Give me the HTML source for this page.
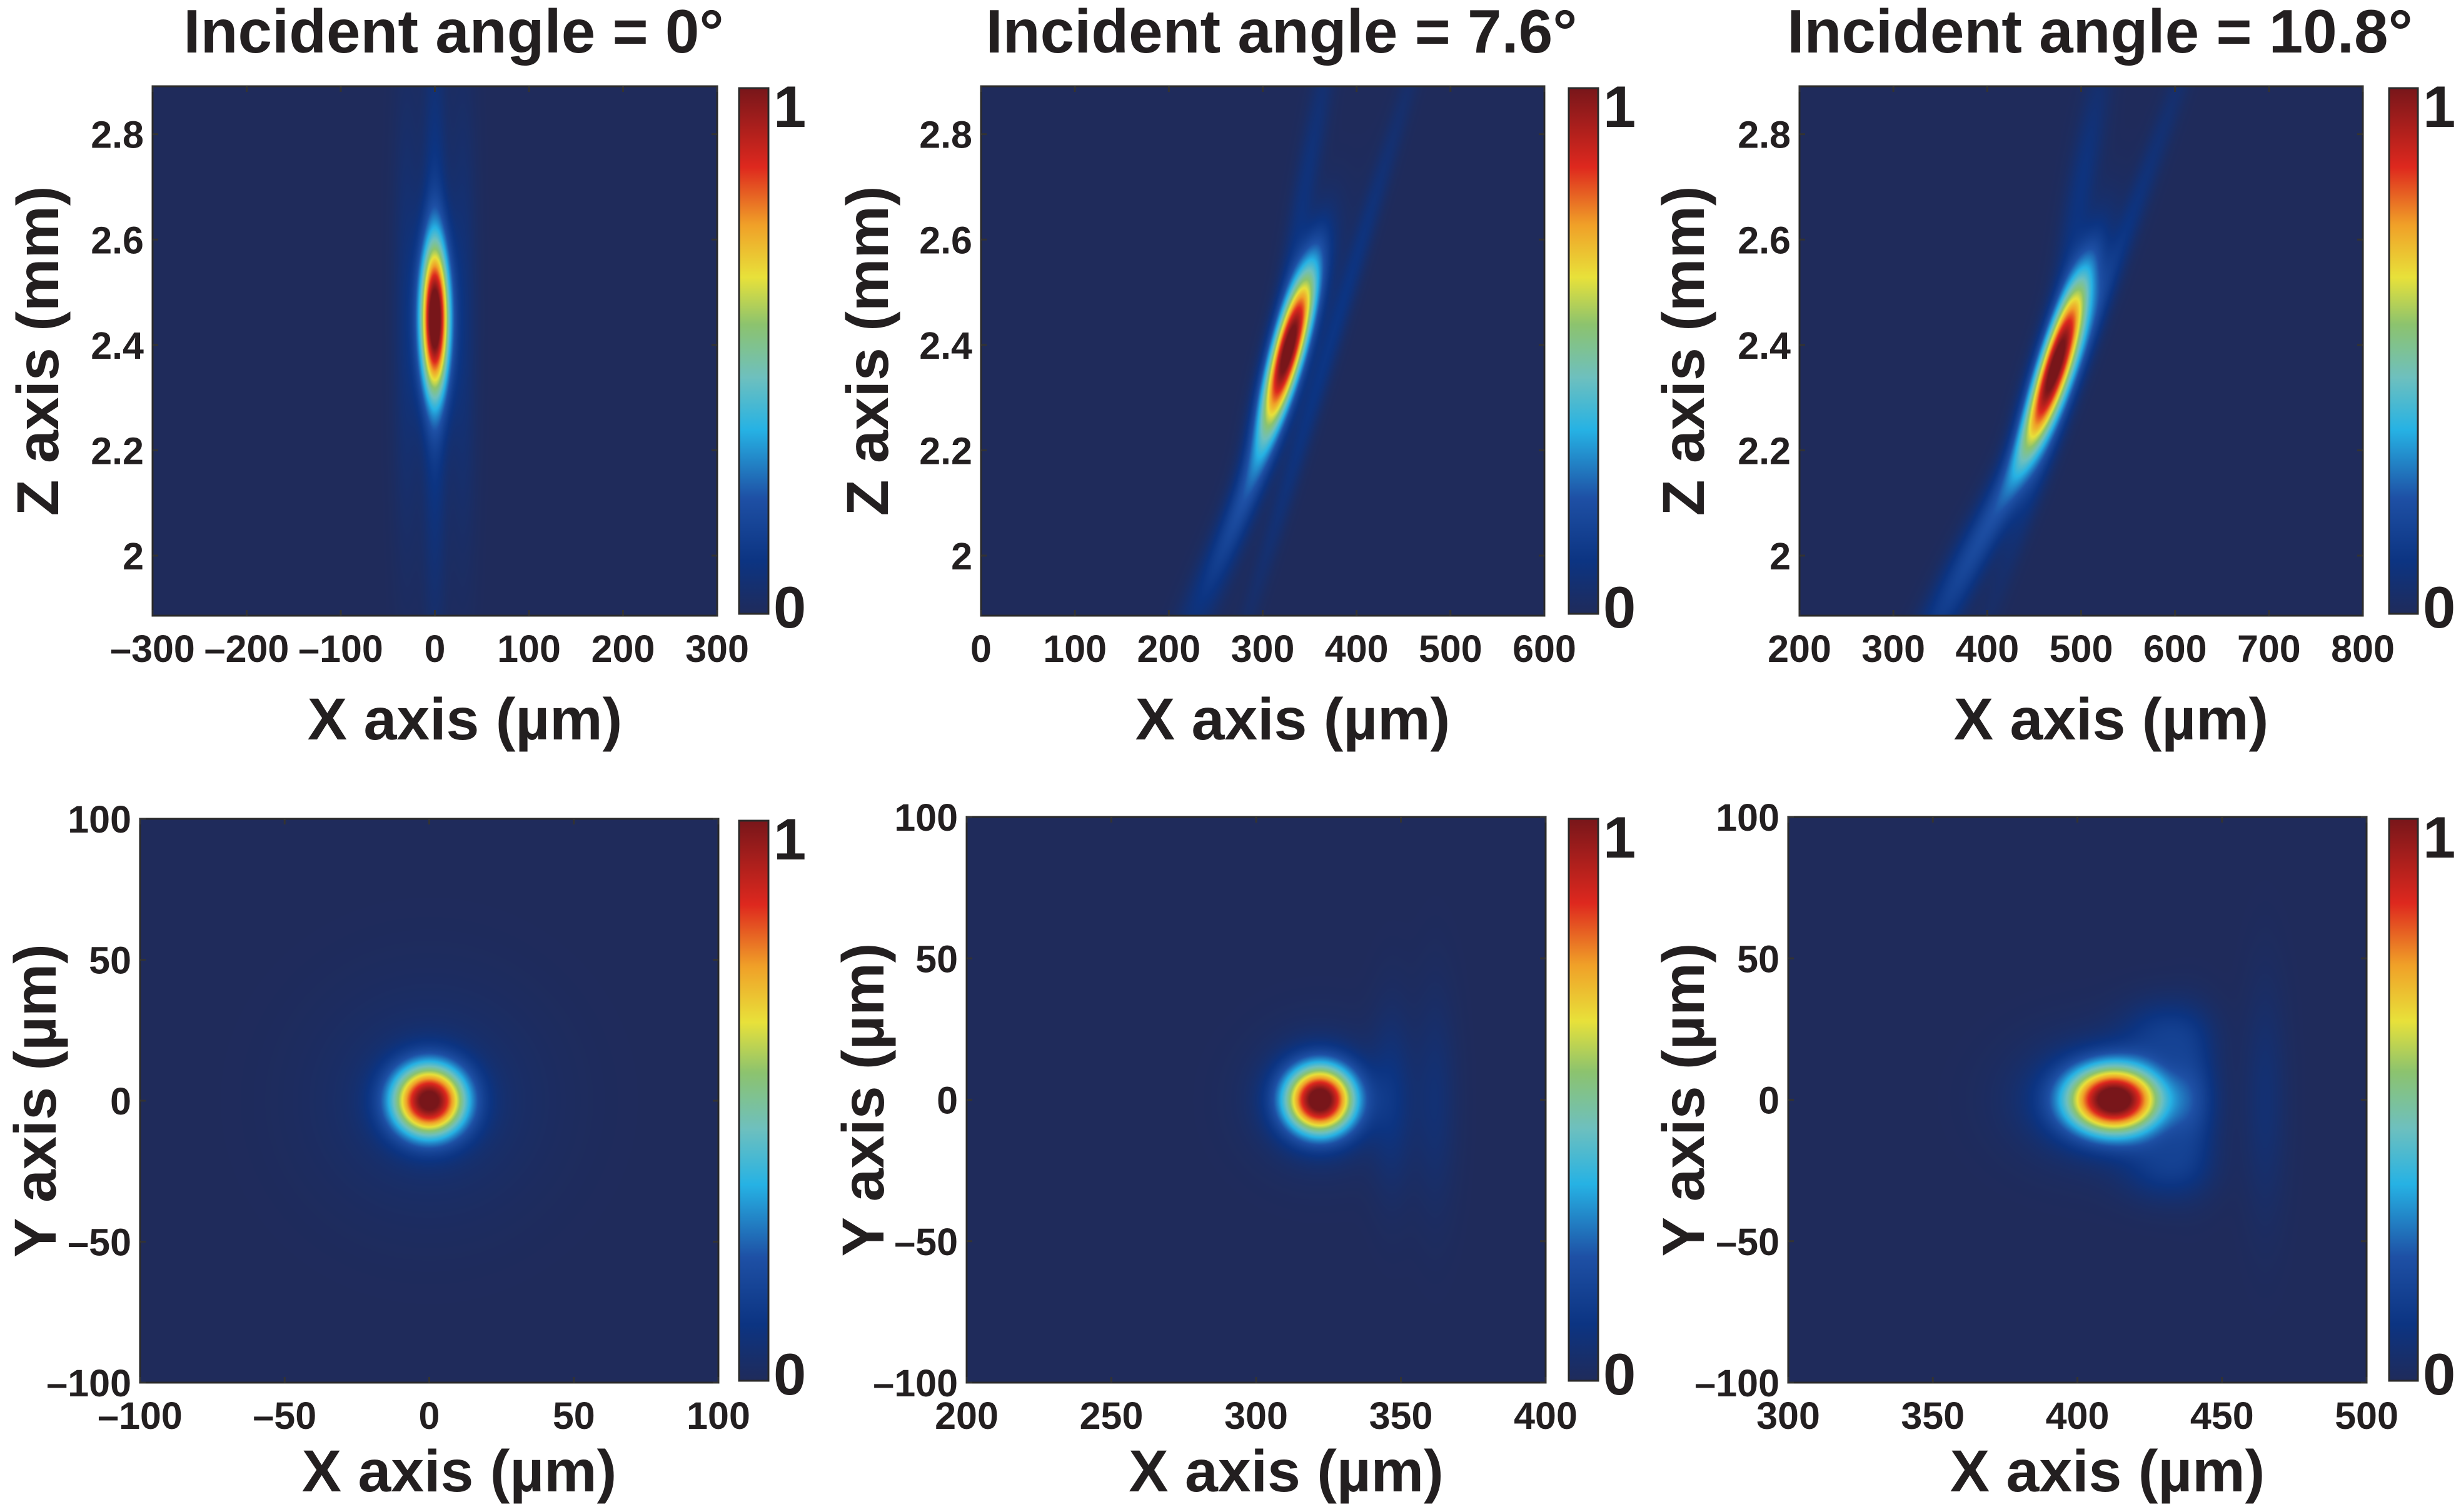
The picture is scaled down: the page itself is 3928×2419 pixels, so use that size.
<!DOCTYPE html>
<html><head><meta charset="utf-8">
<style>
html,body{margin:0;padding:0;background:#fff;}
#root{position:relative;width:3928px;height:2419px;overflow:hidden;font-family:"Liberation Sans",Arial,sans-serif;}
canvas{position:absolute;}
svg{position:absolute;left:0;top:0;}
text{font-family:"Liberation Sans",Arial,sans-serif;font-weight:bold;fill:#231f20;}
</style></head>
<body>
<div id="root">
<svg id="ov" width="3928" height="2419"></svg>
</div>
<script>
// ---------- data (data units) ----------
const titles = ["Incident angle = 0°","Incident angle = 7.6°","Incident angle = 10.8°"];
const topXTicks1 = [-300,-200,-100,0,100,200,300];
const topXTicks2 = [0,100,200,300,400,500,600];
const topXTicks3 = [200,300,400,500,600,700,800];
const topZTicks = [2,2.2,2.4,2.6,2.8];
const botXTicks1 = [-100,-50,0,50,100];
const botXTicks2 = [200,250,300,350,400];
const botXTicks3 = [300,350,400,450,500];
const botYTicks = [-100,-50,0,50,100];

// beam components per panel: amplitude, centre x, centre y, sigma x, sigma y, tilt (dx per dy)
const t1Amp=[1,0.14,0.07,0.07];      const t1Cx=[0,0,-30,30];     const t1Cy=[2.45,2.45,2.45,2.45];
const t1Sx=[11,9,10,10];             const t1Sy=[0.1,0.36,0.3,0.3]; const t1Tilt=[0,0,0,0];
const t2Amp=[1,0.16,0.1,0.08,0.07];  const t2Cx=[328,300,372,345,250]; const t2Cy=[2.40,2.2,2.4,2.7,2.0];
const t2Sx=[12,12,8,9,12];           const t2Sy=[0.11,0.2,0.35,0.22,0.15]; const t2Tilt=[150,200,170,100,250];
const t3Amp=[1,0.16,0.1,0.09,0.09];  const t3Cx=[474,420,515,500,360]; const t3Cy=[2.37,2.12,2.45,2.7,1.95];
const t3Sx=[13,13,9,11,13];          const t3Sy=[0.12,0.2,0.35,0.17,0.15]; const t3Tilt=[175,260,200,100,280];
const b1Amp=[1,0.06];                const b1Cx=[0,0];   const b1Cy=[0,0];
const b1Sx=[9,26];                   const b1Sy=[9,26];  const b1Tilt=[0,0];
const b2Amp=[1,0.09,0.08,0.06];      const b2Cx=[322,322,347,362]; const b2Cy=[0,0,0,0];
const b2Sx=[8.5,15,5,5];             const b2Sy=[8.5,15,22,26];       const b2Tilt=[0,0,0,0];
const b3Amp=[1,0.12,0.14,0.12,0.12,0.06]; const b3Cx=[413,406,440,430,430,465]; const b3Cy=[0,0,0,24,-24,0];
const b3Sx=[11.5,18,6,10,10,5];      const b3Sy=[8.5,14,16,8,8,28];   const b3Tilt=[0,0,0,0,0,0];

// ---------- layout ----------
const panels=[
 {id:"top-1",L:244,R:1147,T:138,B:985,xr:[-300,300],yr:[1.886,2.891],xt:topXTicks1,yt:topZTicks,ylab:"Z axis (mm)",ylx:60,
  d:[t1Amp,t1Cx,t1Cy,t1Sx,t1Sy,t1Tilt],title:titles[0]},
 {id:"top-2",L:1569,R:2470,T:138,B:985,xr:[0,600],yr:[1.886,2.891],xt:topXTicks2,yt:topZTicks,ylab:"Z axis (mm)",ylx:1387,
  d:[t2Amp,t2Cx,t2Cy,t2Sx,t2Sy,t2Tilt],title:titles[1]},
 {id:"top-3",L:2878,R:3779,T:138,B:985,xr:[200,800],yr:[1.886,2.891],xt:topXTicks3,yt:topZTicks,ylab:"Z axis (mm)",ylx:2692,
  d:[t3Amp,t3Cx,t3Cy,t3Sx,t3Sy,t3Tilt],title:titles[2]},
 {id:"bottom-1",L:224,R:1149,T:1310,B:2212,xr:[-100,100],yr:[-100,100],xt:botXTicks1,yt:botYTicks,ylab:"Y axis (µm)",ylx:56,
  d:[b1Amp,b1Cx,b1Cy,b1Sx,b1Sy,b1Tilt]},
 {id:"bottom-2",L:1546,R:2472,T:1307,B:2212,xr:[200,400],yr:[-100,100],xt:botXTicks2,yt:botYTicks,ylab:"Y axis (µm)",ylx:1380,
  d:[b2Amp,b2Cx,b2Cy,b2Sx,b2Sy,b2Tilt]},
 {id:"bottom-3",L:2860,R:3785,T:1307,B:2212,xr:[300,500],yr:[-100,100],xt:botXTicks3,yt:botYTicks,ylab:"Y axis (µm)",ylx:2692,
  d:[b3Amp,b3Cx,b3Cy,b3Sx,b3Sy,b3Tilt]}
];
const cbX=[[1182,1229],[2509,2556],[3821,3867]];

const stops=[[0,[31,43,91]],[0.1,[12,52,130]],[0.22,[30,80,165]],[0.35,[38,178,228]],[0.45,[110,192,190]],
 [0.55,[140,195,110]],[0.64,[232,225,58]],[0.74,[240,160,40]],[0.85,[222,40,30]],[1,[120,22,26]]];
function cmap(v){v=Math.max(0,Math.min(1,v));
 for(let i=1;i<stops.length;i++){if(v<=stops[i][0]){const a=stops[i-1],b=stops[i],t=(v-a[0])/(b[0]-a[0]);
  return [0,1,2].map(k=>Math.round(a[1][k]+(b[1][k]-a[1][k])*t));}}
 return stops[stops.length-1][1];}

const root=document.getElementById('root');
const ov=document.getElementById('ov');
const NS="http://www.w3.org/2000/svg";
function mk(tag,attrs,name,txt){const e=document.createElementNS(NS,tag);for(const k in attrs)e.setAttribute(k,attrs[k]);
 
 
 if(txt!==undefined)e.textContent=txt;ov.appendChild(e);return e;}
function fmt(v){return (v<0?"\u2013"+Math.abs(v):String(v));}

panels.forEach((p,pi)=>{
 const W=p.R-p.L,H=p.B-p.T;
 const sx=v=>p.L+(v-p.xr[0])/(p.xr[1]-p.xr[0])*W;
 const sy=v=>p.B-(v-p.yr[0])/(p.yr[1]-p.yr[0])*H;
 const cv=document.createElement('canvas');
 cv.width=W;cv.height=H;cv.style.left=p.L+'px';cv.style.top=p.T+'px';
 
 
 root.insertBefore(cv,ov);
 const ctx=cv.getContext('2d');const img=ctx.createImageData(W,H);
 const [A,CX,CY,SX,SY,TL]=p.d;
 for(let j=0;j<H;j++){const yv=p.yr[1]-(j+0.5)/H*(p.yr[1]-p.yr[0]);
  for(let i=0;i<W;i++){const xv=p.xr[0]+(i+0.5)/W*(p.xr[1]-p.xr[0]);
   let s=0;for(let k=0;k<A.length;k++){const dx=xv-CX[k]-TL[k]*(yv-CY[k]),dy=yv-CY[k];
    s+=A[k]*Math.exp(-(dx*dx/(2*SX[k]*SX[k])+dy*dy/(2*SY[k]*SY[k])));}
   const c=cmap(s);const o=(j*W+i)*4;img.data[o]=c[0];img.data[o+1]=c[1];img.data[o+2]=c[2];img.data[o+3]=255;}}
 ctx.putImageData(img,0,0);
 mk('rect',{x:p.L,y:p.T,width:W,height:H,fill:'none',stroke:'#2a2a2a','stroke-width':3},'plot-frame-'+p.id);
 p.xt.forEach(v=>{const x=sx(v);
  mk('line',{x1:x,y1:p.B,x2:x,y2:p.B-9,stroke:'#333','stroke-width':3},'x-tick-'+p.id);
  mk('line',{x1:x,y1:p.T,x2:x,y2:p.T+9,stroke:'#333','stroke-width':3},'x-tick-top-'+p.id);
  mk('text',{x:x,y:p.B+74,'font-size':61,'text-anchor':'middle'},'x-tick-label-'+p.id,fmt(v));});
 p.yt.forEach(v=>{const y=sy(v);
  mk('line',{x1:p.L,y1:y,x2:p.L+9,y2:y,stroke:'#333','stroke-width':3},'y-tick-'+p.id);
  mk('line',{x1:p.R,y1:y,x2:p.R-9,y2:y,stroke:'#333','stroke-width':3},'y-tick-right-'+p.id);
  mk('text',{x:p.L-14,y:y+22,'font-size':61,'text-anchor':'end'},'y-tick-label-'+p.id,fmt(v));});
 mk('text',{x:(p.L+p.R)/2+48,y:p.B+(pi<3?198:174),'font-size':95,'text-anchor':'middle'},'x-axis-title-'+p.id,'X axis (µm)');
 const cy=(p.T+p.B)/2;
 mk('text',{x:0,y:0,'font-size':95,'text-anchor':'middle',transform:`translate(${p.ylx+33},${cy}) rotate(-90)`},'y-axis-title-'+p.id,p.ylab);
 if(p.title) mk('text',{x:(p.L+p.R)/2+30,y:84,'font-size':98,'text-anchor':'middle'},'title-'+p.id,p.title);
 const c=cbX[pi%3];
 const gid='g'+pi;const defs=mk('defs',{},'colorbar-defs');
 const lg=document.createElementNS(NS,'linearGradient');lg.setAttribute('id',gid);
 lg.setAttribute('x1','0');lg.setAttribute('y1','1');lg.setAttribute('x2','0');lg.setAttribute('y2','0');
 stops.forEach(s=>{const st=document.createElementNS(NS,'stop');st.setAttribute('offset',s[0]);
  st.setAttribute('stop-color',`rgb(${s[1].join(',')})`);lg.appendChild(st);});
 defs.appendChild(lg);
 const cT=p.T+3,cB=p.B-3;
 mk('rect',{x:c[0],y:cT,width:c[1]-c[0],height:cB-cT,fill:`url(#${gid})`,stroke:'#2a2a2a','stroke-width':3},'colorbar-'+p.id);
 mk('text',{x:c[1]+8,y:cT+62,'font-size':94},'colorbar-max-label-'+p.id,'1');
 mk('text',{x:c[1]+8,y:cB+22,'font-size':94},'colorbar-min-label-'+p.id,'0');
});
</script>
</body></html>
